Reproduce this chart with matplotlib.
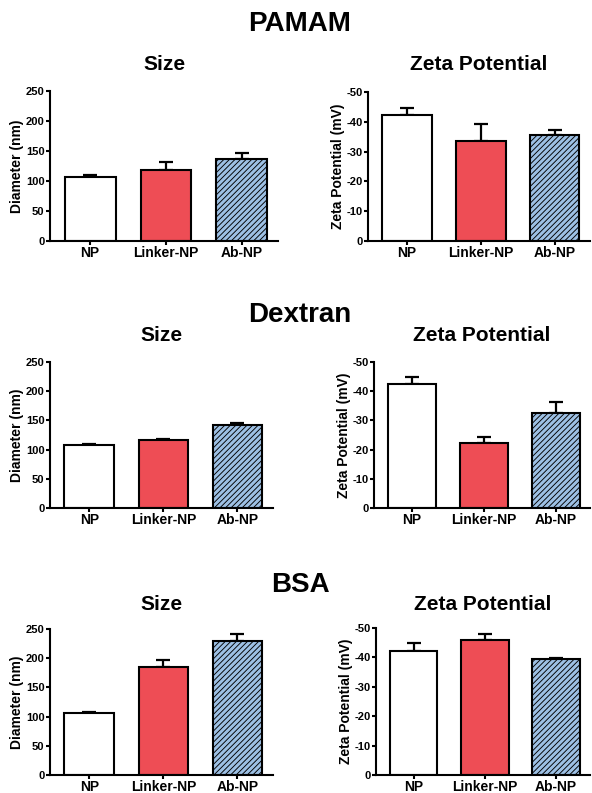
import matplotlib
matplotlib.use("Agg")
import matplotlib.pyplot as plt
import numpy as np

plt.rcParams['font.family'] = ['Liberation Sans', 'DejaVu Sans']
plt.rcParams['font.weight'] = 'bold'
plt.rcParams['axes.unicode_minus'] = False
plt.rcParams['hatch.linewidth'] = 0.65
plt.rcParams['hatch.color'] = '#1a2340'

categories = ['NP', 'Linker-NP', 'Ab-NP']

pamam_size = [106.4, 118.6, 136.4]
pamam_size_err = [2.8, 13.9, 9.9]
pamam_zeta = [-42.3, -33.7, -35.6]
pamam_zeta_err = [2.3, 5.7, 1.8]

dextran_size = [107.3, 115.9, 142.7]
dextran_size_err = [2.7, 2.8, 2.3]
dextran_zeta = [-42.5, -22.4, -32.5]
dextran_zeta_err = [2.4, 1.9, 3.8]

bsa_size = [106.4, 184.8, 228.8]
bsa_size_err = [2.3, 12.0, 13.2]
bsa_zeta = [-42.3, -46.0, -39.5]
bsa_zeta_err = [2.5, 2.1, 0.4]

size_ticks = [0, 50, 100, 150, 200, 250]
zeta_ticks = [0, -10, -20, -30, -40, -50]

W, H = 592, 793
fig = plt.figure(figsize=(W / 100, H / 100), dpi=100)

def rect(l, top, r, bottom):
    return [l / W, 1 - bottom / H, (r - l) / W, (bottom - top) / H]

colors = ['white', '#EE4D55', '#9DC0E4']
hatches = [None, None, '//////']

def draw(ax_rect, vals, errs, kind, title, title_y):
    ax = fig.add_axes(ax_rect)
    x = np.arange(len(categories))
    for i in range(len(categories)):
        ax.bar(x[i], vals[i], width=0.67, color=colors[i], edgecolor='black',
               linewidth=1.5, hatch=hatches[i], zorder=2)
    if kind == 'size':
        yerr = [np.zeros(len(errs)), errs]
    else:
        yerr = [errs, np.zeros(len(errs))]
    ax.errorbar(x, vals, yerr=yerr, fmt='none', ecolor='black',
                elinewidth=1.6, capsize=5, capthick=1.6, zorder=1)
    ax.set_xlim(-0.53, 2.48)
    if kind == 'size':
        ax.set_ylim(0, 250)
        ax.set_yticks(size_ticks)
        ax.set_yticklabels([str(t) for t in size_ticks])
        ax.set_ylabel('Diameter (nm)', fontsize=10, fontweight='bold', labelpad=1)
    else:
        ax.set_ylim(0, -50)
        ax.set_yticks(zeta_ticks)
        ax.set_yticklabels([str(t) for t in zeta_ticks])
        ax.set_ylabel('Zeta Potential (mV)', fontsize=10, fontweight='bold', labelpad=1)
    ax.set_xticks(x)
    ax.set_xticklabels(categories, fontsize=10, fontweight='bold')
    for lab in ax.get_yticklabels():
        lab.set_fontsize(8)
        lab.set_fontweight('bold')
    ax.tick_params(axis='y', length=3, width=1.5, pad=1)
    ax.tick_params(axis='x', length=3, width=1.5, pad=0.5)
    for s in ['top', 'right']:
        ax.spines[s].set_visible(False)
    for s in ['left', 'bottom']:
        ax.spines[s].set_linewidth(1.5)
    cx = (ax_rect[0] + ax_rect[2] / 2)
    fig.text(cx, 1 - title_y / H, title, ha='center', va='center',
             fontsize=15, fontweight='bold')
    return ax

draw(rect(50, 91, 278, 241), pamam_size, pamam_size_err, 'size', 'Size', 65)
draw(rect(368, 92, 590, 241), pamam_zeta, pamam_zeta_err, 'zeta', 'Zeta Potential', 65)
draw(rect(50, 362, 273, 508), dextran_size, dextran_size_err, 'size', 'Size', 336)
draw(rect(374, 362, 590, 508), dextran_zeta, dextran_zeta_err, 'zeta', 'Zeta Potential', 336)
draw(rect(50, 629, 273, 775), bsa_size, bsa_size_err, 'size', 'Size', 605)
draw(rect(376, 628, 590, 775), bsa_zeta, bsa_zeta_err, 'zeta', 'Zeta Potential', 605)

for name, y in [('PAMAM', 24), ('Dextran', 315), ('BSA', 584.5)]:
    fig.text(300 / W, 1 - y / H, name, ha='center', va='center',
             fontsize=20, fontweight='bold')

fig.savefig('out.png', dpi=100)
